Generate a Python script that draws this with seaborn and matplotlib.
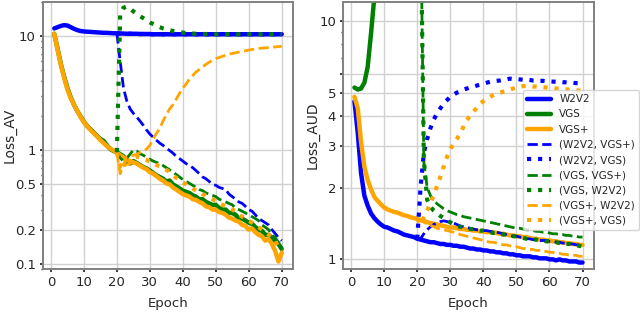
import matplotlib
matplotlib.use("Agg")
import matplotlib.pyplot as plt
from matplotlib.ticker import NullFormatter
import seaborn as sns

sns.set_theme(style="whitegrid", rc={
    "axes.edgecolor": "0.5",
    "axes.linewidth": 1.4,
    "grid.color": "0.82",
    "grid.linewidth": 1.0,
    "xtick.bottom": True,
    "ytick.left": True,
    "xtick.color": "0.15",
    "ytick.color": "0.15",
    "xtick.major.size": 2,
    "ytick.major.size": 2,
    "ytick.minor.size": 1.5,
    "xtick.major.pad": 3,
    "ytick.major.pad": 3,
    "ytick.minor.visible": True,
})
plt.rcParams["font.family"] = ["DejaVu Sans"]

epochs = list(range(1, 71))
branch_epochs = list(range(20, 71))
late_epochs = list(range(21, 71))

# ---------------- Loss_AV (left) ----------------
av_w2v2 = [11.7, 12.0, 12.3, 12.5, 12.4, 12.0, 11.6, 11.3, 11.1, 11.0,
           10.95, 10.9, 10.85, 10.8, 10.75, 10.7, 10.7, 10.65, 10.6, 10.6,
           10.55, 10.55, 10.5, 10.5, 10.5, 10.5, 10.45, 10.45, 10.45, 10.45,
           10.4, 10.4, 10.4, 10.4, 10.4, 10.4, 10.4, 10.4, 10.4, 10.4,
           10.4, 10.4, 10.4, 10.4, 10.4, 10.4, 10.4, 10.4, 10.4, 10.4,
           10.4, 10.4, 10.4, 10.4, 10.4, 10.4, 10.4, 10.4, 10.4, 10.4,
           10.4, 10.4, 10.4, 10.4, 10.4, 10.4, 10.4, 10.4, 10.4, 10.4]
av_vgs = [10.5, 7.8, 5.7, 4.4, 3.5, 2.9, 2.5, 2.2, 1.97, 1.77,
          1.63, 1.52, 1.42, 1.33, 1.25, 1.2, 1.1, 1.02, 0.98, 0.96,
          0.92, 0.88, 0.8, 0.76, 0.8, 0.77, 0.74, 0.71, 0.69, 0.66,
          0.63, 0.6, 0.58, 0.56, 0.53, 0.54, 0.5, 0.48, 0.46, 0.44,
          0.43, 0.42, 0.4, 0.39, 0.37, 0.37, 0.35, 0.34, 0.33, 0.33,
          0.31, 0.3, 0.3, 0.28, 0.28, 0.27, 0.25, 0.25, 0.24, 0.23,
          0.225, 0.21, 0.2, 0.195, 0.18, 0.18, 0.17, 0.16, 0.15, 0.135]
av_vgsp = [10.5, 7.6, 5.6, 4.3, 3.4, 2.85, 2.5, 2.2, 1.95, 1.75,
           1.62, 1.5, 1.4, 1.32, 1.22, 1.15, 1.08, 1.03, 0.99, 0.95,
           0.9, 0.86, 0.82, 0.8, 0.78, 0.76, 0.73, 0.7, 0.68, 0.64,
           0.62, 0.59, 0.56, 0.54, 0.51, 0.5, 0.47, 0.45, 0.43, 0.41,
           0.4, 0.39, 0.37, 0.365, 0.35, 0.34, 0.32, 0.315, 0.3, 0.3,
           0.285, 0.28, 0.27, 0.255, 0.25, 0.24, 0.235, 0.22, 0.215, 0.2,
           0.205, 0.19, 0.18, 0.175, 0.16, 0.165, 0.15, 0.13, 0.105, 0.125]
av_w2v2_vgsp = [10.6,
                6.0, 3.5, 2.7, 2.3, 2.1, 1.95, 1.8, 1.65, 1.5, 1.38,
                1.3, 1.22, 1.15, 1.1, 1.04, 0.99, 0.94, 0.88, 0.84, 0.8,
                0.76, 0.73, 0.7, 0.66, 0.62, 0.58, 0.56, 0.53, 0.5, 0.49,
                0.47, 0.46, 0.45, 0.41, 0.39, 0.37, 0.35, 0.34, 0.32, 0.3,
                0.29, 0.27, 0.25, 0.24, 0.23, 0.22, 0.2, 0.185, 0.17, 0.16]
av_w2v2_vgs = [10.6,
               10.55, 10.5, 10.5, 10.5, 10.5, 10.45, 10.45, 10.45, 10.45, 10.4,
               10.4, 10.4, 10.4, 10.4, 10.4, 10.4, 10.4, 10.4, 10.4, 10.4,
               10.4, 10.4, 10.4, 10.4, 10.4, 10.4, 10.4, 10.4, 10.4, 10.4,
               10.4, 10.4, 10.4, 10.4, 10.4, 10.4, 10.4, 10.4, 10.4, 10.4,
               10.4, 10.4, 10.4, 10.4, 10.4, 10.4, 10.4, 10.4, 10.4, 10.4]
av_vgs_vgsp = [0.96,
               0.85, 0.8, 0.85, 0.92, 1.0, 0.98, 0.93, 0.9, 0.86, 0.83,
               0.8, 0.78, 0.76, 0.73, 0.7, 0.67, 0.64, 0.61, 0.58, 0.55,
               0.53, 0.51, 0.49, 0.47, 0.45, 0.44, 0.42, 0.41, 0.4, 0.39,
               0.37, 0.36, 0.35, 0.34, 0.33, 0.31, 0.3, 0.29, 0.28, 0.27,
               0.26, 0.25, 0.24, 0.22, 0.21, 0.2, 0.18, 0.17, 0.155, 0.138]
av_vgs_w2v2 = [0.96,
               15.5, 17.8, 18.2, 17.5, 16.5, 15.8, 15.0, 14.4, 13.8, 13.2,
               12.8, 12.4, 12.0, 11.7, 11.5, 11.3, 11.1, 11.0, 10.85, 10.75,
               10.65, 10.6, 10.55, 10.5, 10.5, 10.45, 10.45, 10.45, 10.4, 10.4,
               10.4, 10.4, 10.4, 10.4, 10.4, 10.4, 10.4, 10.4, 10.4, 10.4,
               10.4, 10.4, 10.4, 10.4, 10.4, 10.4, 10.4, 10.4, 10.4, 10.4]
av_vgsp_w2v2 = [0.95,
                0.62, 0.75, 0.87, 0.88, 0.9, 0.92, 0.95, 0.98, 1.02, 1.1,
                1.25, 1.4, 1.55, 1.8, 2.05, 2.3, 2.5, 2.8, 3.15, 3.5,
                3.8, 4.2, 4.5, 4.85, 5.1, 5.4, 5.65, 5.9, 6.15, 6.35,
                6.5, 6.65, 6.8, 6.95, 7.05, 7.15, 7.25, 7.35, 7.45, 7.55,
                7.65, 7.7, 7.8, 7.85, 7.9, 7.95, 8.0, 8.05, 8.1, 8.15]
av_vgsp_vgs = [0.95,
               0.72, 0.8, 0.68, 0.78, 0.85, 0.88, 0.86, 0.84, 0.82, 0.79,
               0.77, 0.74, 0.72, 0.7, 0.67, 0.64, 0.6, 0.57, 0.55, 0.52,
               0.5, 0.48, 0.46, 0.44, 0.43, 0.41, 0.4, 0.38, 0.37, 0.36,
               0.34, 0.33, 0.32, 0.31, 0.3, 0.29, 0.27, 0.26, 0.25, 0.24,
               0.23, 0.22, 0.21, 0.2, 0.19, 0.18, 0.17, 0.16, 0.14, 0.13]

# ---------------- Loss_AUD (right) ----------------
vgs_early_epochs = [1, 2, 3, 4, 5, 6, 7, 8]
aud_vgs = [5.25, 5.15, 5.2, 5.5, 6.4, 8.8, 12.5, 18.0]
aud_w2v2 = [4.6, 3.4, 2.3, 1.85, 1.68, 1.56, 1.49, 1.44, 1.4, 1.37,
            1.36, 1.34, 1.32, 1.31, 1.29, 1.27, 1.26, 1.25, 1.24, 1.22,
            1.21, 1.2, 1.19, 1.18, 1.18, 1.17, 1.16, 1.16, 1.15, 1.15,
            1.14, 1.14, 1.13, 1.13, 1.12, 1.11, 1.11, 1.1, 1.1, 1.09,
            1.09, 1.08, 1.08, 1.07, 1.07, 1.06, 1.06, 1.05, 1.05, 1.04,
            1.04, 1.03, 1.03, 1.03, 1.02, 1.02, 1.01, 1.01, 1.01, 1.0,
            1.0, 0.99, 1.0, 0.99, 0.99, 0.98, 0.98, 0.98, 0.97, 0.97]
aud_vgsp = [4.8, 4.3, 3.1, 2.45, 2.15, 1.97, 1.83, 1.76, 1.7, 1.65,
            1.62, 1.6, 1.58, 1.57, 1.55, 1.53, 1.52, 1.5, 1.49, 1.48,
            1.46, 1.45, 1.43, 1.42, 1.41, 1.4, 1.39, 1.38, 1.37, 1.36,
            1.36, 1.35, 1.34, 1.34, 1.33, 1.33, 1.32, 1.32, 1.31, 1.31,
            1.3, 1.3, 1.3, 1.29, 1.28, 1.28, 1.27, 1.26, 1.26, 1.25,
            1.25, 1.24, 1.24, 1.23, 1.22, 1.22, 1.21, 1.21, 1.2, 1.2,
            1.19, 1.19, 1.18, 1.18, 1.17, 1.17, 1.16, 1.16, 1.15, 1.15]
aud_w2v2_vgsp = [1.22,
                 1.22, 1.28, 1.33, 1.37, 1.4, 1.42, 1.44, 1.45, 1.44, 1.43,
                 1.42, 1.4, 1.38, 1.37, 1.36, 1.35, 1.34, 1.33, 1.33, 1.32,
                 1.32, 1.31, 1.31, 1.3, 1.29, 1.28, 1.27, 1.26, 1.25, 1.25,
                 1.24, 1.23, 1.22, 1.22, 1.21, 1.21, 1.2, 1.2, 1.2, 1.19,
                 1.19, 1.18, 1.18, 1.17, 1.17, 1.16, 1.16, 1.15, 1.15, 1.15]
aud_w2v2_vgs = [1.22,
                2.0, 2.8, 3.2, 3.55, 3.85, 4.1, 4.3, 4.5, 4.65, 4.8,
                4.9, 5.0, 5.05, 5.15, 5.2, 5.25, 5.3, 5.35, 5.4, 5.45,
                5.5, 5.55, 5.58, 5.6, 5.62, 5.65, 5.68, 5.72, 5.7, 5.7,
                5.68, 5.66, 5.68, 5.65, 5.62, 5.62, 5.6, 5.6, 5.58, 5.57,
                5.56, 5.55, 5.55, 5.53, 5.52, 5.5, 5.5, 5.48, 5.47, 5.45]
aud_vgs_vgsp = [30.0, 2.55, 2.0, 1.85, 1.76, 1.71, 1.67, 1.63, 1.6, 1.58,
                1.56, 1.54, 1.53, 1.51, 1.5, 1.49, 1.48, 1.47, 1.46, 1.45,
                1.44, 1.43, 1.42, 1.41, 1.4, 1.39, 1.38, 1.37, 1.36, 1.35,
                1.35, 1.34, 1.33, 1.33, 1.32, 1.31, 1.31, 1.3, 1.3, 1.29,
                1.28, 1.28, 1.27, 1.27, 1.26, 1.26, 1.25, 1.25, 1.24, 1.24]
aud_vgs_w2v2 = [30.0, 2.6, 1.78, 1.66, 1.6, 1.56, 1.52, 1.49, 1.46, 1.43,
                1.4, 1.38, 1.37, 1.36, 1.35, 1.34, 1.34, 1.33, 1.32, 1.32,
                1.31, 1.3, 1.29, 1.29, 1.28, 1.27, 1.27, 1.26, 1.25, 1.25,
                1.24, 1.23, 1.22, 1.22, 1.21, 1.21, 1.2, 1.2, 1.19, 1.19,
                1.18, 1.18, 1.17, 1.17, 1.16, 1.16, 1.15, 1.14, 1.14, 1.13]
aud_vgsp_w2v2 = [1.48,
                 1.46, 1.43, 1.41, 1.39, 1.37, 1.35, 1.34, 1.33, 1.32, 1.31,
                 1.3, 1.29, 1.27, 1.26, 1.25, 1.24, 1.23, 1.22, 1.21, 1.2,
                 1.19, 1.18, 1.18, 1.17, 1.16, 1.15, 1.15, 1.14, 1.13, 1.13,
                 1.12, 1.11, 1.11, 1.1, 1.1, 1.09, 1.09, 1.08, 1.08, 1.07,
                 1.07, 1.06, 1.06, 1.05, 1.05, 1.04, 1.04, 1.04, 1.03, 1.03]
aud_vgsp_vgs = [1.48,
                1.4, 1.5, 1.6, 1.72, 1.86, 2.03, 2.22, 2.45, 2.69, 2.9,
                3.05, 3.2, 3.37, 3.6, 3.84, 4.0, 4.15, 4.32, 4.5, 4.6,
                4.7, 4.8, 4.88, 4.95, 5.0, 5.05, 5.1, 5.15, 5.2, 5.25,
                5.3, 5.32, 5.33, 5.32, 5.3, 5.3, 5.28, 5.27, 5.25, 5.24,
                5.22, 5.2, 5.2, 5.18, 5.16, 5.15, 5.14, 5.12, 5.1, 5.1]

labels = ["W2V2", "VGS", "VGS+", "(W2V2, VGS+)", "(W2V2, VGS)",
          "(VGS, VGS+)", "(VGS, W2V2)", "(VGS+, W2V2)", "(VGS+, VGS)"]
colors = ["blue", "green", "orange", "blue", "blue",
          "green", "green", "orange", "orange"]
styles = ["-", "-", "-", "--", ":", "--", ":", "--", ":"]
widths = [3.2, 3.2, 3.2, 2.0, 3.0, 2.0, 3.0, 2.0, 3.0]

av_series = [(epochs, av_w2v2), (epochs, av_vgs), (epochs, av_vgsp),
             (branch_epochs, av_w2v2_vgsp), (branch_epochs, av_w2v2_vgs),
             (branch_epochs, av_vgs_vgsp), (branch_epochs, av_vgs_w2v2),
             (branch_epochs, av_vgsp_w2v2), (branch_epochs, av_vgsp_vgs)]
aud_series = [(epochs, aud_w2v2), (vgs_early_epochs, aud_vgs), (epochs, aud_vgsp),
              (branch_epochs, aud_w2v2_vgsp), (branch_epochs, aud_w2v2_vgs),
              (late_epochs, aud_vgs_vgsp), (late_epochs, aud_vgs_w2v2),
              (branch_epochs, aud_vgsp_w2v2), (branch_epochs, aud_vgsp_vgs)]

fig = plt.figure(figsize=(6.4, 3.17), dpi=100)
ax1 = fig.add_axes([0.067, 0.151, 0.391, 0.843])
ax2 = fig.add_axes([0.536, 0.151, 0.392, 0.843])

for ax, series in [(ax1, av_series), (ax2, aud_series)]:
    ax.set_yscale("log")
    for (x, y), lab, c, ls, lw in zip(series, labels, colors, styles, widths):
        sns.lineplot(x=x, y=y, ax=ax, color=c, linestyle=ls, linewidth=lw,
                     label=lab, legend=False)
    ax.set_xlim(-2.45, 73.45)
    ax.set_xticks([0, 10, 20, 30, 40, 50, 60, 70])
    ax.set_xlabel("Epoch", fontsize=9.5, labelpad=6)
    ax.tick_params(labelsize=9.5)
    ax.yaxis.set_minor_formatter(NullFormatter())
    ax.grid(True, which="major")
    ax.grid(False, which="minor")

ax1.set_ylim(0.09, 20)
ax1.set_yticks([0.1, 0.2, 0.5, 1, 10])
ax1.set_yticklabels(["0.1", "0.2", "0.5", "1", "10"])
ax1.set_ylabel("Loss_AV", fontsize=10)
ax1.yaxis.set_label_coords(-0.104, 0.5)

ax2.set_ylim(0.91, 12)
ax2.set_yticks([1, 2, 3, 4, 5, 6, 10])
ax2.set_yticklabels(["1", "2", "3", "4", "5", "", "10"])
ax2.set_ylabel("Loss_AUD", fontsize=10)
ax2.yaxis.set_label_coords(-0.092, 0.5)

ax2.legend(loc="upper left", bbox_to_anchor=(0.817, 0.716),
           bbox_transform=fig.transFigure, borderaxespad=0,
           fontsize=7.5, handlelength=2.3, framealpha=0.8)

fig.savefig("out.png", dpi=100)
